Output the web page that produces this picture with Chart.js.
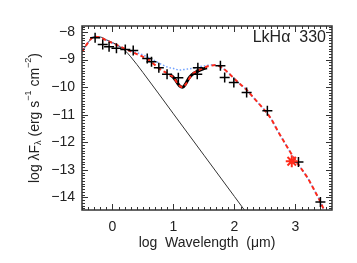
<!DOCTYPE html>
<html>
<head>
<meta charset="utf-8">
<script src="https://cdn.jsdelivr.net/npm/chart.js@4"></script>
<style>
  html, body { margin: 0; padding: 0; background: #fff; }
  canvas { display: block; }
</style>
</head>
<body>
<canvas id="sed" width="357" height="263"></canvas>
<script>
// photometry (log wavelength, log lambda F_lambda)
const photX = [-0.285, -0.16, -0.056, 0.065, 0.21, 0.34, 0.57, 0.64, 0.76, 0.895, 1.08, 1.39, 1.40, 1.77, 1.84, 1.99, 2.20, 2.54, 3.05, 3.41];
const photY = [-8.21, -8.45, -8.53, -8.59, -8.63, -8.67, -8.96, -9.08, -9.30, -9.53, -9.66, -9.53, -9.30, -9.22, -9.65, -9.83, -10.19, -10.86, -12.72, -14.17];

// mm point (red asterisk)
const mmX = [2.94];
const mmY = [-12.69];

// model SED (red dashed)
const modelX = [-0.5, -0.4, -0.3, -0.2, -0.1, 0, 0.1, 0.2, 0.3, 0.4, 0.5, 0.6, 0.7, 0.8, 0.9, 1.0, 1.1, 1.15, 1.2, 1.3, 1.4, 1.5, 1.6, 1.7, 1.8, 1.9, 2.0, 2.1, 2.2, 2.3, 2.4, 2.5, 2.6, 2.7, 2.8, 2.9, 3.0, 3.1, 3.2, 3.3, 3.4, 3.47];
const modelY = [-8.72, -8.38, -8.17, -8.2, -8.3, -8.4, -8.5, -8.6, -8.7, -8.8, -8.9, -9.02, -9.2, -9.38, -9.5, -9.65, -9.95, -10.0, -9.9, -9.55, -9.4, -9.3, -9.22, -9.2, -9.3, -9.48, -9.7, -9.9, -10.1, -10.35, -10.6, -10.85, -11.15, -11.55, -11.93, -12.3, -12.65, -12.97, -13.3, -13.7, -14.12, -14.46];

// disk model without silicate (blue dotted)
const diskX = [-0.5, -0.4, -0.3, -0.2, -0.1, 0, 0.1, 0.2, 0.3, 0.4, 0.5, 0.6, 0.7, 0.8, 0.9, 1.0, 1.1, 1.2, 1.3, 1.4, 1.5, 1.6, 1.7, 1.8, 1.9, 2.0, 2.1, 2.2, 2.3, 2.4, 2.5, 2.6, 2.7, 2.8, 2.9, 3.0, 3.1, 3.2, 3.3, 3.4, 3.47];
const diskY = [-8.72, -8.38, -8.17, -8.2, -8.3, -8.4, -8.5, -8.6, -8.68, -8.75, -8.83, -8.93, -9.05, -9.17, -9.27, -9.32, -9.38, -9.35, -9.32, -9.27, -9.23, -9.2, -9.2, -9.3, -9.48, -9.7, -9.9, -10.1, -10.35, -10.6, -10.85, -11.15, -11.55, -11.93, -12.3, -12.65, -12.97, -13.3, -13.7, -14.12, -14.46];

// IRS spectrum (thick black)
const irsX = [0.95, 1.0, 1.05, 1.1, 1.15, 1.2, 1.25, 1.3, 1.4, 1.5, 1.55];
const irsY = [-9.56, -9.65, -9.8, -9.95, -10.0, -9.88, -9.68, -9.55, -9.42, -9.33, -9.3];

// stellar photosphere (thin black)
const starX = [-0.5, -0.4, -0.3, -0.2, -0.1, 0, 0.1, 0.2, 0.3, 0.5, 1.0, 1.5, 2.0, 2.2];
const starY = [-8.72, -8.38, -8.17, -8.18, -8.28, -8.38, -8.5, -8.66, -8.9, -9.47, -10.97, -12.47, -13.97, -14.57];

const xTicks = [0, 1, 2, 3];
const yTicks = [-14, -13, -12, -11, -10, -9, -8];

const pts = (xs, ys) => xs.map((x, i) => ({ x: x, y: ys[i] }));
const FONT = "'Liberation Sans', Arial, sans-serif";
const INK = "#222";

const frame = {
  id: "frame",
  afterDatasetsDraw(chart) {
    const ctx = chart.ctx;
    const a = chart.chartArea;
    const xs = chart.scales.x, ys = chart.scales.y;
    ctx.save();
    ctx.beginPath();
    ctx.rect(a.left, a.top, a.right - a.left, a.bottom - a.top);
    ctx.clip();
    ctx.strokeStyle = "#333";
    ctx.lineWidth = 1;
    ctx.beginPath();
    for (let i = -5; i <= 36; i++) {
      const v = i / 10;
      const px = Math.round(xs.getPixelForValue(v)) + 0.5;
      const len = i % 10 === 0 ? 6 : 3;
      ctx.moveTo(px, a.bottom); ctx.lineTo(px, a.bottom - len);
      ctx.moveTo(px, a.top); ctx.lineTo(px, a.top + len);
    }
    for (let i = -144; i <= -78; i++) {
      const v = i / 10;
      const py = Math.round(ys.getPixelForValue(v)) + 0.5;
      const len = i % 10 === 0 ? 6 : 3;
      ctx.moveTo(a.left, py); ctx.lineTo(a.left + len, py);
      ctx.moveTo(a.right, py); ctx.lineTo(a.right - len, py);
    }
    ctx.stroke();
    ctx.restore();

    ctx.save();
    ctx.strokeStyle = "#333";
    ctx.lineWidth = 1.5;
    ctx.strokeRect(a.left, a.top, a.right - a.left, a.bottom - a.top);

    // object name
    ctx.fillStyle = INK;
    ctx.font = "16px " + FONT;
    ctx.textAlign = "right";
    ctx.textBaseline = "alphabetic";
    ctx.fillText("LkH\u03b1  330", a.right - 6, a.top + 16);

    // x title
    ctx.font = "14px " + FONT;
    ctx.textAlign = "center";
    ctx.textBaseline = "middle";
    ctx.fillText("log  Wavelength  (\u03bcm)", (a.left + a.right) / 2, 243);

    // y title with sub/superscripts
    const parts = [
      { t: "log \u03bbF", s: 14, dy: 0 },
      { t: "\u03bb", s: 9, dy: 4 },
      { t: " (erg s", s: 14, dy: 0 },
      { t: "\u22121", s: 9, dy: -6 },
      { t: " cm", s: 14, dy: 0 },
      { t: "\u22122", s: 9, dy: -6 },
      { t: ")", s: 14, dy: 0 }
    ];
    let total = 0;
    parts.forEach(p => { ctx.font = p.s + "px " + FONT; p.w = ctx.measureText(p.t).width; total += p.w; });
    ctx.translate(35, (a.top + a.bottom) / 2);
    ctx.rotate(-Math.PI / 2);
    ctx.textAlign = "left";
    let cx = -total / 2;
    parts.forEach(p => {
      ctx.font = p.s + "px " + FONT;
      ctx.fillText(p.t, cx, p.dy);
      cx += p.w;
    });
    ctx.restore();
  }
};

new Chart(document.getElementById("sed"), {
  type: "scatter",
  data: {
    datasets: [
      {
        label: "mm",
        data: pts(mmX, mmY),
        pointStyle: "star",
        pointRadius: 6,
        borderColor: "#ff2a1a",
        backgroundColor: "#ff2a1a",
        borderWidth: 2,
        order: 0
      },
      {
        label: "photometry",
        data: pts(photX, photY),
        pointStyle: "cross",
        pointRadius: 5,
        borderColor: "#000",
        borderWidth: 1.5,
        order: 1
      },
      {
        label: "model",
        type: "line",
        data: pts(modelX, modelY),
        borderColor: "#ff2a1a",
        borderWidth: 2,
        borderDash: [4, 3],
        pointRadius: 0,
        cubicInterpolationMode: "monotone",
        order: 2
      },
      {
        label: "irs",
        type: "line",
        data: pts(irsX, irsY),
        borderColor: "#000",
        borderWidth: 3,
        pointRadius: 0,
        cubicInterpolationMode: "monotone",
        order: 3
      },
      {
        label: "disk",
        type: "line",
        data: pts(diskX, diskY),
        borderColor: "#6fa0ff",
        borderWidth: 1.5,
        borderDash: [1.5, 2],
        pointRadius: 0,
        cubicInterpolationMode: "monotone",
        order: 4
      },
      {
        label: "star",
        type: "line",
        data: pts(starX, starY),
        borderColor: "#333",
        borderWidth: 1,
        pointRadius: 0,
        cubicInterpolationMode: "monotone",
        order: 5
      }
    ]
  },
  options: {
    responsive: false,
    animation: false,
    events: [],
    layout: { padding: { left: 0, top: 26, right: 25, bottom: 0 } },
    plugins: { legend: { display: false }, tooltip: { enabled: false } },
    scales: {
      x: {
        type: "linear",
        min: -0.5,
        max: 3.6,
        afterBuildTicks: s => { s.ticks = xTicks.map(v => ({ value: v })); },
        afterFit: s => { s.height = 53; },
        grid: { display: false, drawTicks: false },
        border: { display: false },
        ticks: { color: INK, padding: 9, font: { family: FONT, size: 14 }, maxRotation: 0,
                 callback: v => String(v) }
      },
      y: {
        type: "linear",
        min: -14.46,
        max: -7.78,
        afterBuildTicks: s => { s.ticks = yTicks.map(v => ({ value: v })); },
        afterFit: s => { s.width = 82; },
        grid: { display: false, drawTicks: false },
        border: { display: false },
        ticks: { color: INK, padding: 7, font: { family: FONT, size: 14 },
                 callback: v => (v < 0 ? "\u2212" + Math.abs(v) : String(v)) }
      }
    }
  },
  plugins: [frame]
});
</script>
</body>
</html>
